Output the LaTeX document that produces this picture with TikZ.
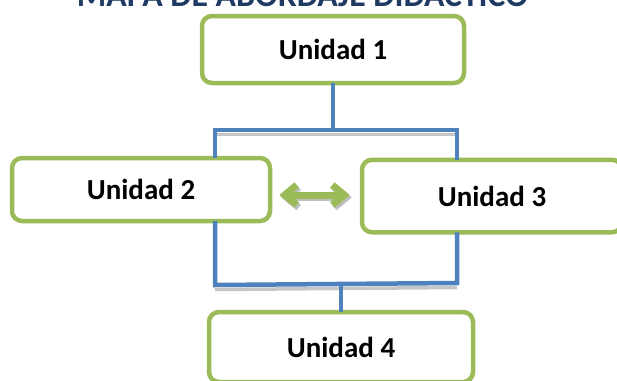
\documentclass[tikz,border=0pt]{standalone}
\usepackage{fontspec}
\setmainfont{Carlito}
\usetikzlibrary{arrows.meta,calc}
\definecolor{boxgreen}{HTML}{9BBB59}
\definecolor{lineblue}{HTML}{4F81BD}
\definecolor{titleblue}{HTML}{1F3B64}
\begin{document}
\begin{tikzpicture}[x=1pt,y=-1pt,
  unit/.style={draw=boxgreen, line width=4.5pt, rounded corners=10pt, fill=white,
    font=\fontsize{29}{32}\selectfont\bfseries, text=black, inner sep=0pt, align=center},
  link/.style={draw=lineblue, line width=4.5pt, line cap=rect},
  linkshade/.style={draw=gray!45, line width=3.5pt},
  duo/.style={draw=boxgreen, line width=7pt, line cap=round,
    {Straight Barb[length=12pt,width=20pt]}-{Straight Barb[length=12pt,width=20pt]}},
  duoshade/.style={duo, draw=gray!50},
]
\useasboundingbox (0,0) rectangle (617,380);
\clip (0,0) rectangle (617,380);
\node[font=\fontsize{33.7}{36}\selectfont\bfseries, text=titleblue, anchor=base, inner sep=0pt]
  (title) at (302.5,6) {MAPA DE ABORDAJE DIDÁCTICO};
\node[unit, minimum width=262pt, minimum height=67pt] (u1) at (333,49.5) {Unidad 1};
\node[unit, minimum width=258pt, minimum height=63pt] (u2) at (141,189.5) {Unidad 2};
\node[unit, minimum width=260pt, minimum height=72.5pt] (u3) at (492,196) {Unidad 3};
\node[unit, minimum width=264pt, minimum height=70pt] (u4) at (341,347) {Unidad 4};
\coordinate (tl) at (215,130);
\coordinate (tr) at (457,130);
\coordinate (bl) at (215,285);
\coordinate (br) at (457,283);
\coordinate (bm) at ($(bl)!0.52!(br)$);
% shadows of the bars
\draw[linkshade] ([yshift=-4.5pt]tl) -- ([yshift=-4.5pt]tr);
\draw[linkshade] ([yshift=-4.5pt]bl) -- ([yshift=-4.5pt]br);
% bracket connectors
\draw[link] (u1.south) -- (u1.south |- tl);
\draw[link] (tl |- u2.north) -- (tl) -- (tr) -- (tr |- u3.north);
\draw[link] (tl |- u2.south) -- (bl) -- (br) -- (tr |- u3.south);
\draw[link] (bm) -- (bm |- u4.north);
% double arrow
\draw[duoshade] ([shift={(9,8)}]u2.east) -- ([shift={(-8,1.5)}]u3.west);
\draw[duo] ([shift={(7,5.5)}]u2.east) -- ([shift={(-10,-1)}]u3.west);
\end{tikzpicture}
\end{document}
